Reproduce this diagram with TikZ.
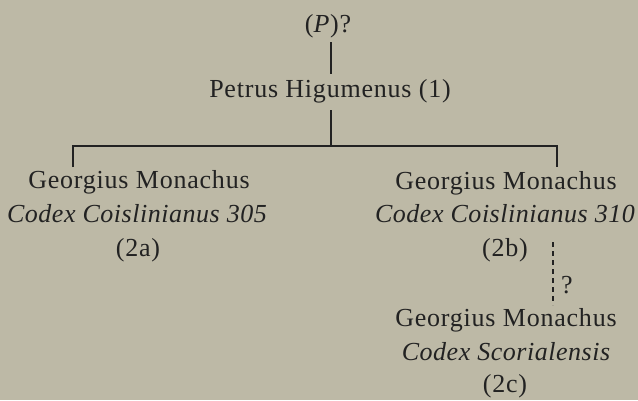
\documentclass[tikz,border=0pt]{standalone}
\usepackage{fontspec}
\setmainfont{Liberation Serif}[LetterSpace=3]
\definecolor{bg}{HTML}{BDB9A6}
\definecolor{ink}{HTML}{222222}
\begin{document}
\begin{tikzpicture}[x=1pt,y=-1pt,
  txt/.style={anchor=base,inner sep=0pt,text=ink,font=\fontsize{26}{30}\selectfont},
  it/.style={txt,font=\fontsize{26}{30}\selectfont\itshape\addfontfeature{LetterSpace=2}},
  link/.style={draw=ink,line width=1.5pt},
  maybe/.style={link,dash pattern=on 5pt off 4pt}]
\fill[bg] (0,0) rectangle (638,400);
\useasboundingbox (0,0) rectangle (638,400);
% nodes
\node[txt] (p) at (328,32) {(\textit{P})?};
\node[txt] (petrus) at (330,97) {Petrus Higumenus (1)};
\node[txt] (a1) at (139,188) {Georgius Monachus};
\node[it]  (a2) at (137,222) {Codex Coislinianus 305};
\node[txt] (a3) at (138,256) {(2a)};
\node[txt] (b1) at (506,189) {Georgius Monachus};
\node[it]  (b2) at (505,222) {Codex Coislinianus 310};
\node[txt] (b3) at (505,256) {(2b)};
\node[txt] (c1) at (506,326) {Georgius Monachus};
\node[it]  (c2) at (506,360) {Codex Scorialensis};
\node[txt] (c3) at (505,392) {(2c)};
\node[txt] (q) at (567,293) {?};
% coordinates
\coordinate (t1) at (331,42);
\coordinate (t2) at (331,74);
\coordinate (m1) at (331,110);
\coordinate (hm) at (331,146);
\coordinate (hl) at (73,146);
\coordinate (hr) at (557,146);
\coordinate (dl) at (73,167);
\coordinate (dr) at (557,167);
\coordinate (s1) at (553,242);
\coordinate (s2) at (553,305);
% connectors
\draw[link] (t1) -- (t2);
\draw[link] (m1) -- (hm);
\draw[link] (dl) -- (hl) -- (hr) -- (dr);
\draw[maybe] (s1) -- (s2);
\end{tikzpicture}
\end{document}
